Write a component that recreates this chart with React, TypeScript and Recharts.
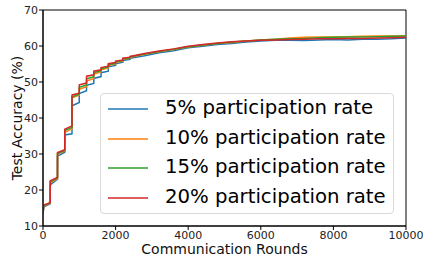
import React from 'react';
import { LineChart, Line, XAxis, YAxis, ReferenceArea, Legend } from 'recharts';

const rounds = [0, 20, 199, 200, 399, 400, 599, 600, 799, 800, 999, 1000, 1199, 1200, 1399, 1400, 1599, 1600, 1799, 1800, 1999, 2000, 2199, 2200, 2399, 2400, 2800, 3200, 3600, 4000, 4400, 4800, 5200, 5600, 6000, 6400, 6800, 7200, 7600, 8000, 8400, 8800, 9200, 9600, 10000];

const rate5 = [13.0, 15.3, 16.2, 21.4, 23.0, 29.4, 30.5, 35.3, 35.6, 43.4, 44.3, 46.8, 47.6, 49.1, 49.6, 51.0, 51.5, 52.6, 53.0, 54.2, 54.6, 55.1, 55.5, 56.0, 56.3, 56.6, 57.3, 58.1, 58.7, 59.5, 59.9, 60.4, 60.7, 61.1, 61.4, 61.6, 61.6, 61.5, 61.7, 61.8, 61.7, 61.9, 61.9, 62.0, 62.2];
const rate10 = [13.3, 15.6, 16.4, 22.0, 23.2, 30.0, 30.9, 36.0, 37.0, 45.6, 46.3, 48.0, 48.7, 50.3, 51.0, 52.2, 52.8, 53.4, 53.9, 54.6, 55.0, 55.5, 55.8, 56.3, 56.6, 56.9, 57.7, 58.4, 59.0, 59.7, 60.2, 60.7, 61.0, 61.4, 61.7, 61.9, 62.2, 62.4, 62.5, 62.5, 62.6, 62.7, 62.8, 62.8, 62.8];
const rate15 = [13.4, 15.7, 16.5, 22.3, 23.4, 30.2, 31.0, 36.5, 37.4, 45.9, 46.6, 48.5, 49.2, 50.9, 51.5, 52.6, 53.1, 53.7, 54.2, 54.8, 55.2, 55.6, 56.0, 56.4, 56.7, 57.0, 57.8, 58.5, 59.1, 59.8, 60.3, 60.7, 61.1, 61.4, 61.7, 61.9, 62.0, 62.1, 62.3, 62.4, 62.5, 62.5, 62.6, 62.7, 62.8];
const rate20 = [13.5, 15.8, 16.5, 22.6, 23.5, 30.4, 31.2, 36.9, 37.8, 46.4, 46.9, 49.2, 49.7, 51.6, 52.0, 53.0, 53.4, 54.0, 54.4, 55.1, 55.4, 55.8, 56.1, 56.6, 56.9, 57.1, 57.9, 58.6, 59.2, 59.9, 60.4, 60.8, 61.2, 61.4, 61.6, 61.7, 61.8, 61.9, 62.0, 62.0, 62.1, 62.1, 62.2, 62.3, 62.4];

const xTicks = [0, 2000, 4000, 6000, 8000, 10000];
const yTicks = [10, 20, 30, 40, 50, 60, 70];

const seriesNames = ['5% participation rate', '10% participation rate', '15% participation rate', '20% participation rate'];
const seriesKeys = ['r5', 'r10', 'r15', 'r20'];
const seriesColors = ['#1f77b4', '#ff7f0e', '#2ca02c', '#d62728'];

const data = rounds.map((r, i) => ({ round: r, r5: rate5[i], r10: rate10[i], r15: rate15[i], r20: rate20[i] }));

const FONT = 'DejaVu Sans, sans-serif';

const LegendBox = () => (
  <div
    style={{
      position: 'absolute',
      left: 100,
      top: 93,
      width: 294,
      height: 121,
      border: '1px solid #d9d9d9',
      borderRadius: 4,
      background: 'rgba(255,255,255,0.85)',
      boxSizing: 'border-box',
      fontFamily: FONT,
    }}
  >
    {seriesNames.map((n, i) => (
      <div key={n} style={{ position: 'absolute', left: 0, top: i * 29.5, height: 30, width: 294 }}>
        <svg width={50} height={30} style={{ position: 'absolute', left: 7, top: 0 }}>
          <line x1={0} x2={40} y1={15} y2={15} stroke={seriesColors[i]} strokeWidth={1.6} />
        </svg>
        <span
          style={{
            position: 'absolute',
            left: 64,
            top: 2,
            fontSize: 19.7,
            lineHeight: '24px',
            color: '#000',
            whiteSpace: 'nowrap',
          }}
        >
          {n}
        </span>
      </div>
    ))}
  </div>
);

export default function App() {
  return (
    <div style={{ position: 'absolute', left: 0, top: 0, width: 423, height: 256, background: '#fff' }}>
      <LineChart width={423} height={256} data={data} margin={{ top: 10, right: 17, bottom: 0, left: 0 }}>
        <XAxis
          dataKey="round"
          type="number"
          domain={[0, 10000]}
          ticks={xTicks}
          height={30}
          tickSize={4}
          tickMargin={1}
          stroke="#000"
          tick={{ fill: '#222', fontSize: 11, fontFamily: FONT }}
          allowDataOverflow
          label={{ value: 'Communication Rounds', position: 'center', dy: 8, fill: '#111', fontSize: 14, fontFamily: FONT }}
        />
        <YAxis
          type="number"
          domain={[10, 70]}
          ticks={yTicks}
          width={43}
          tickSize={4}
          tickMargin={1}
          stroke="#000"
          tick={{ fill: '#222', fontSize: 11, fontFamily: FONT }}
          allowDataOverflow
          label={{ value: 'Test Accuracy (%)', angle: -90, position: 'center', dx: -4, fill: '#111', fontSize: 14, fontFamily: FONT }}
        />
        <ReferenceArea x1={0} x2={10000} y1={10} y2={70} fill="none" stroke="#000" strokeWidth={1} ifOverflow="visible" />
        {seriesKeys.map((k, i) => (
          <Line
            key={k}
            dataKey={k}
            name={seriesNames[i]}
            type="linear"
            stroke={seriesColors[i]}
            strokeWidth={1.5}
            dot={false}
            isAnimationActive={false}
          />
        ))}
        <Legend content={() => <LegendBox />} wrapperStyle={{ position: 'absolute', left: 0, top: 0, width: 0, height: 0 }} />
      </LineChart>
    </div>
  );
}
